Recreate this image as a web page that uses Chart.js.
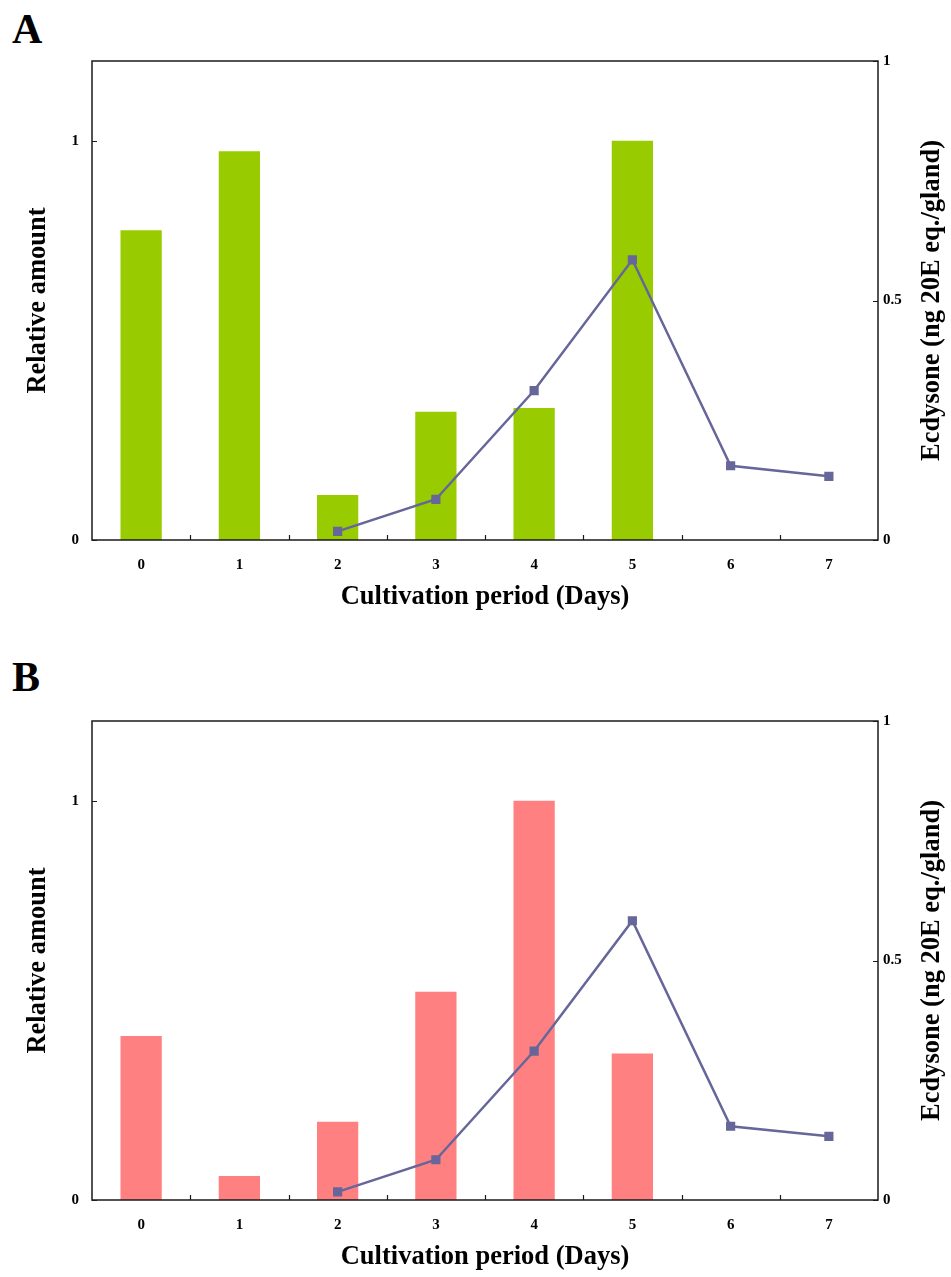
<!DOCTYPE html>
<html>
<head>
<meta charset="utf-8">
<script src="https://cdn.jsdelivr.net/npm/chart.js@4/dist/chart.umd.min.js"></script>
<style>
  html, body { margin:0; padding:0; background:#fff; }
  body { width:951px; height:1277px; position:relative; overflow:hidden; }
  .panel { position:absolute; left:0; width:951px; height:617px; }
  .letter { position:absolute; left:12px; font-family:"Liberation Serif"; font-weight:bold; font-size:42px; line-height:1; color:#000; }
</style>
</head>
<body>
<div class="letter" style="top:8px;">A</div>
<div class="panel" style="top:0px;"><canvas id="chartA" width="951" height="617"></canvas></div>
<div class="letter" style="top:656px;">B</div>
<div class="panel" style="top:660px;"><canvas id="chartB" width="951" height="617"></canvas></div>
<script>
// ---- data ----
const days = ['0', '1', '2', '3', '4', '5', '6', '7'];
const relativeA = [0.776, 0.974, 0.113, 0.321, 0.331, 1.0, null, null];
const ecdysoneA = [null, null, 0.018, 0.085, 0.312, 0.585, 0.155, 0.133];
const relativeB = [0.411, 0.06, 0.196, 0.522, 1.0, 0.367, null, null];
const ecdysoneB = [null, null, 0.017, 0.084, 0.311, 0.583, 0.154, 0.133];
const leftTicks = [0, 1];
const leftTickLabels = ['0', '1'];
const rightTicks = [0, 0.5, 1];
const rightTickLabels = ['0', '0.5', '1'];
const xTitle = 'Cultivation period (Days)';
const leftTitle = 'Relative amount';
const rightTitle = 'Ecdysone (ng 20E eq./gland)';

const SERIF = '"Liberation Serif"';
const TITLE_SIZE = 26.5;

const framePlugin = {
  id: 'frame',
  afterDatasetsDraw(chart) {
    const { ctx, chartArea: { left, right, top, bottom }, scales } = chart;
    ctx.save();
    ctx.strokeStyle = '#1a1a1a';
    ctx.lineWidth = 1.5;
    ctx.strokeRect(left, top, right - left, bottom - top);
    ctx.lineWidth = 1.2;
    ctx.beginPath();
    const xs = scales.x;
    for (let i = 1; i < xs.ticks.length; i++) {
      const px = Math.round((xs.getPixelForTick(i - 1) + xs.getPixelForTick(i)) / 2) + 0.5;
      ctx.moveTo(px, bottom); ctx.lineTo(px, bottom - 5);
    }
    scales.y.ticks.forEach(t => {
      const py = Math.round(scales.y.getPixelForValue(t.value)) + 0.5;
      ctx.moveTo(left, py); ctx.lineTo(left + 5, py);
    });
    scales.y1.ticks.forEach(t => {
      const py = Math.round(scales.y1.getPixelForValue(t.value)) + 0.5;
      ctx.moveTo(right, py); ctx.lineTo(right - 5, py);
    });
    ctx.stroke();
    // right axis title, reading bottom-to-top
    ctx.fillStyle = '#000';
    ctx.font = 'bold ' + TITLE_SIZE + 'px ' + SERIF;
    ctx.textAlign = 'center';
    ctx.textBaseline = 'middle';
    ctx.translate(932, (top + bottom) / 2);
    ctx.rotate(-Math.PI / 2);
    ctx.fillText(rightTitle, 0, 0);
    ctx.restore();
  }
};

function makeChart(id, bars, line, barColor) {
  return new Chart(document.getElementById(id), {
    type: 'bar',
    data: {
      labels: days,
      datasets: [
        {
          type: 'line', data: line, yAxisID: 'y1',
          borderColor: '#66669a', backgroundColor: '#66669a', borderWidth: 2.5,
          pointStyle: 'rect', pointRadius: 6.5, pointHoverRadius: 6.5, pointBorderWidth: 0,
          tension: 0, spanGaps: false, order: 0
        },
        {
          type: 'bar', data: bars, yAxisID: 'y', backgroundColor: barColor, borderWidth: 0,
          barPercentage: 0.42, categoryPercentage: 1.0, order: 1
        }
      ]
    },
    options: {
      responsive: false, animation: false, events: [],
      layout: { padding: { top: 61, left: 0, right: 0, bottom: 0 } },
      plugins: { legend: { display: false }, tooltip: { enabled: false } },
      scales: {
        x: {
          type: 'category',
          grid: { display: false, drawTicks: false, tickLength: 0 },
          border: { display: false },
          ticks: { color: '#000', font: { family: SERIF, weight: 'bold', size: 15 }, padding: 16, maxRotation: 0 },
          title: { display: true, text: xTitle, color: '#000', font: { family: SERIF, weight: 'bold', size: TITLE_SIZE }, padding: { top: 0, bottom: 4 } },
          afterFit(s) { s.height = 77; }
        },
        y: {
          position: 'left', min: 0, max: 1.2,
          grid: { display: false, drawTicks: false, tickLength: 0 },
          border: { display: false },
          ticks: { color: '#000', font: { family: SERIF, weight: 'bold', size: 15 }, padding: 13,
                   callback: (v) => leftTickLabels[leftTicks.indexOf(v)] },
          afterBuildTicks(s) { s.ticks = leftTicks.map(v => ({ value: v })); },
          title: { display: true, text: leftTitle, color: '#000', font: { family: SERIF, weight: 'bold', size: TITLE_SIZE }, padding: { top: 22, bottom: 0 } },
          afterFit(s) { s.width = 92; }
        },
        y1: {
          position: 'right', min: 0, max: 1,
          grid: { display: false, drawTicks: false, tickLength: 0 },
          border: { display: false },
          ticks: { color: '#000', font: { family: SERIF, weight: 'bold', size: 15 }, padding: 5,
                   callback: (v) => rightTickLabels[rightTicks.indexOf(v)] },
          afterBuildTicks(s) { s.ticks = rightTicks.map(v => ({ value: v })); },
          afterFit(s) { s.width = 73; }
        }
      }
    },
    plugins: [framePlugin]
  });
}

makeChart('chartA', relativeA, ecdysoneA, '#99cc00');
makeChart('chartB', relativeB, ecdysoneB, '#ff8080');
</script>
</body>
</html>
